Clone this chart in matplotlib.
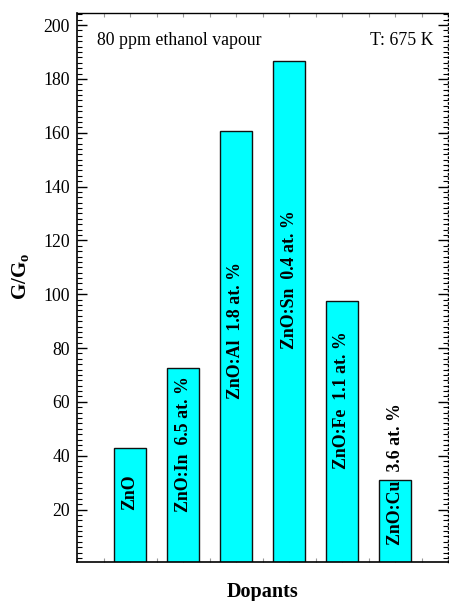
import matplotlib
matplotlib.use("Agg")
import matplotlib.pyplot as plt
from matplotlib.ticker import MultipleLocator

plt.rcParams['font.family'] = ['Liberation Serif', 'DejaVu Serif']
plt.rcParams['mathtext.fontset'] = 'custom'
plt.rcParams['mathtext.rm'] = 'Liberation Serif'
plt.rcParams['mathtext.bf'] = 'Liberation Serif:bold'

positions = [1, 2, 3, 4, 5, 6]
values = [43, 72.5, 160.5, 186.5, 97.5, 31]
labels = ["ZnO", "ZnO:In  6.5 at. %", "ZnO:Al  1.8 at. %", "ZnO:Sn  0.4 at. %",
          "ZnO:Fe  1.1 at. %", "ZnO:Cu  3.6 at. %"]
label_base = [20, 19, 61, 79.5, 35, 7]
yticks = [20, 40, 60, 80, 100, 120, 140, 160, 180, 200]

fig = plt.figure(figsize=(4.49, 6.01), dpi=100)
ax = fig.add_axes([77/449, 1 - 562/601, (448-77)/449, (562-13)/601])

ax.bar(positions, values, width=0.6, color="#00FFFF", edgecolor="#111111", linewidth=1.0, zorder=2)

for p, lab, b in zip(positions, labels, label_base):
    ax.text(p, b, lab, rotation=90, ha="center", va="bottom", fontsize=12.8,
            fontweight="bold", zorder=3)

ax.set_xlim(0, 7)
ax.set_ylim(0.5, 204.5)
ax.set_yticks(yticks)
ax.yaxis.set_minor_locator(MultipleLocator(2))
ax.xaxis.set_major_locator(MultipleLocator(0.5))
ax.set_xticklabels([])
ax.tick_params(axis="x", which="major", direction="in", length=3, color="#999999",
               top=True, bottom=True, width=0.8)
ax.tick_params(axis="y", which="major", direction="in", length=7, width=1.0,
               left=True, right=True, labelsize=12.8, pad=5)
ax.tick_params(axis="y", which="minor", direction="in", length=3.5, width=0.8,
               left=True, right=True)

ax.spines["left"].set_linewidth(1.2)
ax.spines["bottom"].set_linewidth(1.2)
ax.spines["top"].set_linewidth(1.0)
ax.spines["right"].set_linewidth(1.0)
ax.spines["right"].set_linestyle((0, (1, 2)))

ax.set_ylabel(r"$\mathbf{G/G}_\mathbf{o}$", fontsize=15)
ax.yaxis.set_label_coords(-0.12, 0.52)
ax.set_xlabel("Dopants", fontsize=14.5, fontweight="bold", labelpad=11)

ax.text(0.054, 0.965, "80 ppm ethanol vapour", transform=ax.transAxes, ha="left", va="top", fontsize=12.8)
ax.text(0.96, 0.965, "T: 675 K", transform=ax.transAxes, ha="right", va="top", fontsize=12.8)

fig.savefig("out.png", dpi=100)
